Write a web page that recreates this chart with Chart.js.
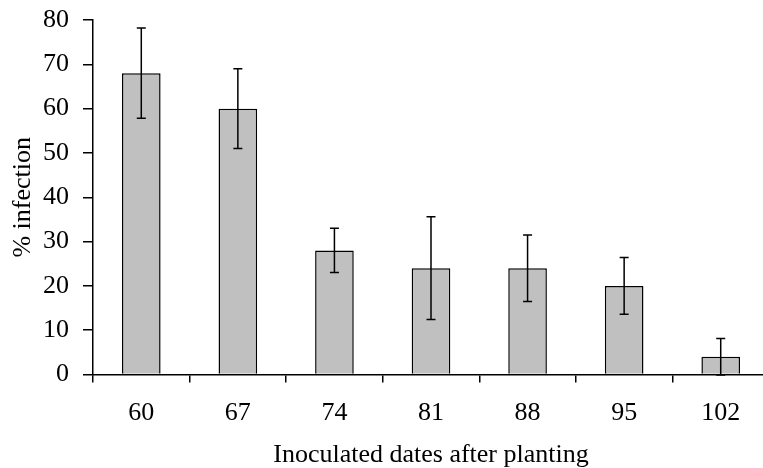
<!DOCTYPE html>
<html>
<head>
<meta charset="utf-8">
<script src="https://cdn.jsdelivr.net/npm/chart.js@4.4.0/dist/chart.umd.min.js"></script>
<style>
  html, body { margin: 0; padding: 0; background: #fff; overflow: hidden; }
  #wrap { width: 770px; height: 468px; }
</style>
</head>
<body>
<div id="wrap"><canvas id="grafico" width="770" height="468"></canvas></div>
<script>
// dados
var dias = ["60", "67", "74", "81", "88", "95", "102"];
var infeccao = [68, 60, 28, 24, 24, 20, 4];
var erro = [10.2, 9, 5, 11.6, 7.5, 6.4, 4.1];
var ticksY = [0, 10, 20, 30, 40, 50, 60, 70, 80];

var fonte = "'Liberation Serif', 'Times New Roman', serif";

// desenha as barras de erro usando as escalas do grafico
var barrasErro = {
  id: "barrasErro",
  afterDatasetsDraw: function (chart) {
    var ctx = chart.ctx;
    var x = chart.scales.x;
    var y = chart.scales.y;
    ctx.save();
    ctx.strokeStyle = "#000";
    ctx.lineWidth = 1.5;
    for (var i = 0; i < infeccao.length; i++) {
      var px = x.getPixelForValue(i);
      var topo = y.getPixelForValue(infeccao[i] + erro[i]);
      var base = y.getPixelForValue(infeccao[i] - erro[i]);
      ctx.beginPath();
      ctx.moveTo(px, topo);
      ctx.lineTo(px, base);
      ctx.moveTo(px - 4.5, topo);
      ctx.lineTo(px + 4.5, topo);
      ctx.moveTo(px - 4.5, base);
      ctx.lineTo(px + 4.5, base);
      ctx.stroke();
    }
    ctx.restore();
  }
};

var dados = {
  labels: dias,
  datasets: [{
    label: "% infection",
    data: infeccao,
    backgroundColor: "#c0c0c0",
    borderColor: "#000",
    borderWidth: 1.5,
    barPercentage: 0.4,
    categoryPercentage: 1.0
  }]
};

var config = {
  type: "bar",
  data: dados,
  options: {
    responsive: false,
    animation: false,
    layout: { padding: { top: 20, right: 1, left: 0, bottom: 0 } },
    plugins: {
      legend: { display: false },
      tooltip: { enabled: false }
    },
    scales: {
      x: {
        afterFit: function (axis) { axis.height = 93.5; axis.paddingLeft = 0; axis.paddingRight = 0; },
        border: { display: true, color: "#000", width: 1.5 },
        grid: { display: true, drawOnChartArea: false, drawTicks: true, tickLength: 8, color: "#000", lineWidth: 1.5, offset: true },
        ticks: { color: "#000", font: { family: fonte, size: 26 }, padding: 15 },
        title: { display: true, text: "Inoculated dates after planting", color: "#000", font: { family: fonte, size: 26, lineHeight: 1 }, padding: 0 }
      },
      y: {
        min: 0,
        max: 80,
        afterBuildTicks: function (axis) {
          axis.ticks = ticksY.map(function (v) { return { value: v }; });
        },
        afterFit: function (axis) { axis.width = 93; axis.paddingTop = 0; axis.paddingBottom = 0; },
        border: { display: true, color: "#000", width: 1.5 },
        grid: { display: true, drawOnChartArea: false, drawTicks: true, tickLength: 10, color: "#000", lineWidth: 1.5 },
        ticks: { color: "#000", font: { family: fonte, size: 26 }, padding: 14 },
        title: { display: true, text: "% infection", color: "#000", font: { family: fonte, size: 26, lineHeight: 1 }, padding: { top: 10, bottom: 0 } }
      }
    }
  },
  plugins: [barrasErro]
};

var meuGrafico = new Chart(document.getElementById("grafico"), config);
</script>
</body>
</html>
